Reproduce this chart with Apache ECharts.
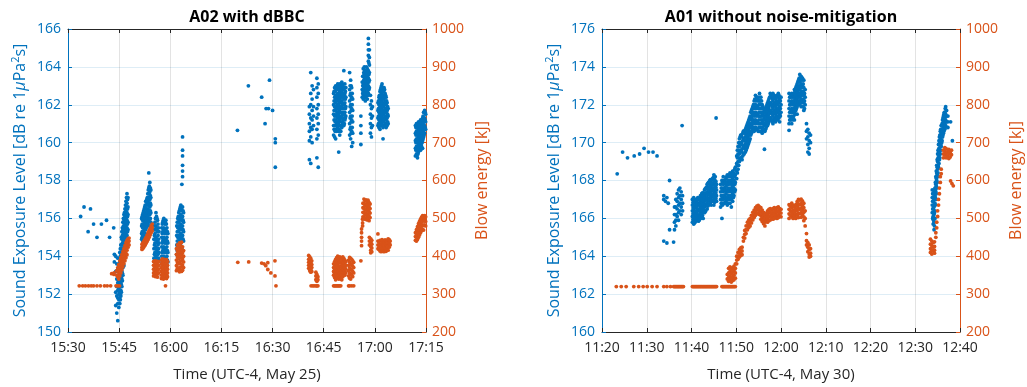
<!DOCTYPE html>
<html>
<head>
<meta charset="utf-8">
<script src="https://cdn.jsdelivr.net/npm/echarts@6/dist/echarts.min.js"></script>
<style>
  html, body { margin: 0; padding: 0; background: #ffffff; }
  #chart { width: 1027px; height: 387px; }
</style>
</head>
<body>
<div id="chart"></div>
<script>
// Time values are minutes after midnight (local, UTC-4).
// Each entry is [time, [values observed at that time]].

// ---- A02 with dBBC (May 25) ----
const selA02 = [
  [933.7,[156.1]],[934.7,[156.6]],[935.9,[155.3]],[936.6,[156.5]],[937.5,[155.7]],[938.5,[155.0]],
  [939.8,[155.7]],[941.3,[155.9]],[942.2,[155.0]],[943.4,[155.5]],
  [943.6,[154.1,153.7]],
  [944.0,[154.0,153.2,152.1,151.4]],
  [944.3,[153.6,152.8,152.4,151.9,151.0]],
  [944.6,[153.9,153.3,152.6,152.2,151.8,151.5,150.6]],
  [944.9,[153.5,153.0,152.7,152.3,152.0,151.7,151.3]],
  [945.2,[154.2,153.7,153.2,152.9,152.5,152.1,151.8,151.5]],
  [945.35,[154.4,154.0,153.6,153.2,152.8,152.4,152.0,151.7]],
  [945.5,[154.6,154.2,153.8,153.4,153.0,152.6,152.2,151.9]],
  [945.65,[155.0,154.6,154.1,153.7,153.3,152.9,152.5,152.1]],
  [945.8,[155.3,154.9,154.4,154.0,153.6,153.2,152.8,152.4]],
  [945.95,[155.5,155.1,154.7,154.3,153.9,153.5,153.1,152.7]],
  [946.1,[155.8,155.4,155.0,154.6,154.2,153.8,153.4,153.0]],
  [946.25,[156.0,155.6,155.2,154.8,154.4,154.0,153.6]],
  [946.4,[156.2,155.8,155.4,155.0,154.6,154.2,153.9,153.5]],
  [946.55,[156.3,155.9,155.5,155.1,154.7,154.3,153.9]],
  [946.7,[156.5,156.1,155.7,155.3,154.9,154.5,154.1]],
  [946.85,[156.7,156.3,155.9,155.5,155.1,154.7]],
  [947.0,[156.9,156.4,156.0,155.6,155.2,154.8,154.4]],
  [947.15,[157.1,156.6,156.2,155.8,155.4,155.0]],
  [947.3,[157.3,156.8,156.3,155.9,155.5,155.1]],
  [947.45,[157.0,156.5,156.1,155.7,155.3]],
  [947.6,[157.1,156.6,156.2,155.8,155.4]],
  [951.6,[156.0,155.6,155.2,154.9]],
  [951.75,[156.1,155.7,155.3,155.0]],
  [951.9,[156.2,155.9,155.5,155.1,154.8]],
  [952.05,[156.3,155.9,155.6,155.2]],
  [952.2,[156.4,156.0,155.7,155.3,155.0]],
  [952.35,[156.5,156.1,155.7,155.4,155.0]],
  [952.5,[156.6,156.2,155.8,155.5,155.1]],
  [952.65,[156.7,156.3,156.0,155.6,155.2]],
  [952.8,[156.9,156.5,156.1,155.7,155.4]],
  [952.95,[156.9,156.5,156.2,155.8,155.5]],
  [953.1,[157.0,156.7,156.3,155.9,155.6]],
  [953.25,[157.1,156.8,156.4,156.0,155.6]],
  [953.4,[157.3,156.9,156.5,156.1,155.7]],
  [953.55,[157.5,157.1,156.7,156.3,155.8]],
  [953.7,[158.4,157.6,157.1,156.7,156.3,155.9]],
  [953.85,[157.7,157.3,156.8,156.4,156.0]],
  [954.0,[157.9,157.4,157.0,156.6,156.2,155.6]],
  [954.15,[157.6,157.2,156.8,156.4,156.0]],
  [954.3,[157.5,157.1,156.7,156.3,155.8]],
  [955.2,[155.4,154.9,154.4,153.9]],
  [955.35,[155.6,155.1,154.6,154.1]],
  [955.5,[155.8,155.2,154.7,154.2,153.8]],
  [955.65,[156.0,155.4,154.9,154.4,153.9]],
  [955.8,[156.3,155.6,155.0,154.5,154.0]],
  [955.95,[156.1,155.5,154.9,154.4]],
  [956.1,[156.0,155.4,154.8,154.3,153.9]],
  [956.25,[155.9,155.3,154.7,154.2]],
  [956.4,[155.7,155.1,154.6,154.1]],
  [956.55,[155.5,154.9,154.4,153.9]],
  [956.7,[155.3,154.7,154.2,153.8]],
  [957.5,[155.5,155.0,154.5,154.0,153.6]],
  [957.65,[155.7,155.2,154.7,154.2,153.7]],
  [957.8,[155.8,155.3,154.8,154.3,153.8,153.4]],
  [957.95,[155.9,155.4,154.9,154.4,153.9]],
  [958.1,[156.0,155.5,155.0,154.5,154.0,153.5]],
  [958.25,[155.8,155.3,154.8,154.3,153.8]],
  [958.4,[155.7,155.2,154.7,154.2,153.7]],
  [958.55,[155.8,155.3,154.8,154.3]],
  [958.7,[155.9,155.4,154.9,154.4,153.9,153.4]],
  [958.85,[155.7,155.2,154.7,154.2,153.7]],
  [959.0,[155.5,155.0,154.5,154.0,153.5]],
  [959.15,[155.3,154.8,154.3,153.8]],
  [959.3,[155.2,154.7,154.2,153.7]],
  [961.9,[155.6,155.1,154.6,154.1]],
  [962.05,[155.8,155.3,154.8,154.3]],
  [962.2,[156.0,155.5,155.0,154.5,154.0]],
  [962.35,[156.1,155.6,155.1,154.6,154.1]],
  [962.5,[156.3,155.8,155.3,154.8,154.3,153.9]],
  [962.65,[156.4,155.9,155.4,154.9,154.4]],
  [962.8,[156.5,156.0,155.5,155.0,154.5,154.1]],
  [962.95,[156.6,156.1,155.6,155.1,154.6]],
  [963.1,[156.7,156.2,155.7,155.2,154.7,154.2]],
  [963.25,[156.5,156.0,155.5,155.0,154.5]],
  [963.4,[157.8,156.4,155.9,155.4,154.9,154.4]],
  [963.6,[160.3,159.6,159.3,158.8,158.5,158.2,156.6,156.1,155.6,155.1]],
  [963.75,[156.4,155.9,155.4,154.9]],
  [963.9,[156.3,155.8,155.3,154.8]],
  [979.7,[160.65]],[982.9,[163.0]],[986.8,[162.4]],[987.8,[161.0]],[988.1,[161.8]],[988.8,[161.8]],
  [989.1,[163.3]],[990.0,[161.7]],[990.8,[160.2,160.0,158.7]],
  [1000.8,[161.9,161.5,161.0,160.6,160.1,159.1]],
  [1001.2,[163.7,162.6,162.0,161.3,160.8,160.3,158.9]],
  [1001.6,[163.0,162.3,161.7,161.2,160.7,160.0]],
  [1002.0,[162.8,161.9,161.4,160.9]],
  [1003.0,[163.4,162.9,162.4,161.8,161.3,160.7,160.2,159.2]],
  [1003.4,[163.1,162.6,162.0,161.5,161.0,160.4,158.7]],
  [1007.9,[162.6,162.0,161.5,160.9,160.4]],
  [1008.05,[162.7,162.2,161.7,161.2,160.7]],
  [1008.2,[162.9,162.4,161.9,161.4,160.9,160.3]],
  [1008.35,[162.7,162.2,161.7,161.1,160.6]],
  [1008.5,[163.0,162.5,162.1,161.7,161.2,160.7,160.2]],
  [1008.65,[162.8,162.3,161.8,161.4,160.9]],
  [1008.8,[162.8,162.3,161.9,161.5,161.0,160.6]],
  [1008.95,[162.9,162.4,162.0,161.6,161.1]],
  [1009.1,[163.1,162.6,162.2,161.8,161.3,160.8]],
  [1009.25,[163.0,162.5,162.0,161.5,161.0]],
  [1009.4,[162.9,162.4,162.0,161.6,161.1,160.6,159.5]],
  [1009.55,[162.8,162.5,162.1,161.7,161.2,160.7]],
  [1009.7,[163.1,162.7,162.3,161.9,161.4,160.9,160.4]],
  [1009.85,[163.0,162.6,162.2,161.8,161.3]],
  [1010.0,[162.9,162.5,162.1,161.6,161.1,160.6]],
  [1010.15,[162.8,162.4,161.9,161.4,160.9]],
  [1010.3,[163.2,162.7,162.2,161.8,161.3,160.8]],
  [1010.45,[163.1,162.6,162.1,161.6,161.1]],
  [1010.6,[163.0,162.5,162.0,161.5,161.0]],
  [1010.75,[162.9,162.4,162.0,161.6,161.2]],
  [1010.9,[163.8,162.8,162.3,161.8,161.3,160.9]],
  [1011.05,[162.9,162.5,162.0,161.5,161.0]],
  [1011.2,[163.1,162.6,162.1,161.6,161.2]],
  [1011.35,[162.7,162.3,161.8,161.3]],
  [1011.5,[162.9,162.4,161.9,161.4]],
  [1012.6,[163.7,162.8,162.2,161.6,161.0,160.4]],
  [1012.75,[163.0,162.5,161.9,161.3,160.7]],
  [1012.9,[163.3,162.6,162.0,161.4,160.8,160.2]],
  [1013.05,[163.0,162.3,161.7,161.1,160.5]],
  [1013.2,[162.9,162.4,161.8,161.2,160.6,159.8]],
  [1013.35,[162.6,162.0,161.4,160.8]],
  [1013.5,[162.3,161.7,161.1,160.5,160.0]],
  [1015.9,[161.4,160.9,160.5,159.9]],
  [1016.3,[163.2,162.8,162.4]],
  [1016.45,[163.5,163.0,162.6]],
  [1016.6,[163.9,163.5,163.1,162.7,162.3]],
  [1016.75,[163.7,163.3,162.9,162.5]],
  [1016.9,[164.0,163.6,163.2,162.8,162.4]],
  [1017.05,[163.8,163.4,163.0,162.6]],
  [1017.2,[163.8,163.4,163.0,162.6,162.2]],
  [1017.35,[163.6,163.2,162.8,162.4]],
  [1017.5,[164.0,163.7,163.3,162.9,162.5]],
  [1017.65,[163.8,163.5,163.1,162.7]],
  [1017.8,[163.9,163.5,163.1,162.7,162.3]],
  [1017.95,[163.7,163.3,162.9,162.5]],
  [1018.1,[165.5,165.2,164.9,164.6,164.3,163.8,163.4,163.0,162.6]],
  [1018.25,[164.2,163.6,163.2,162.8]],
  [1018.4,[164.9,164.5,164.1,163.7,163.3,162.9]],
  [1018.7,[162.5,162.0,161.5,161.0,160.5]],
  [1019.0,[162.2,161.8,161.3,160.8,160.3]],
  [1019.3,[161.9,161.4,160.9]],
  [1020.9,[162.1,161.7,161.3,160.9]],
  [1021.05,[162.2,161.8,161.4,161.0]],
  [1021.2,[162.4,162.0,161.6,161.2,160.8]],
  [1021.35,[162.5,162.1,161.7,161.3,160.9]],
  [1021.5,[162.7,162.3,161.9,161.5,161.1,160.7]],
  [1021.65,[162.8,162.4,162.0,161.6,161.2]],
  [1021.8,[162.9,162.5,162.1,161.7,161.3,160.9]],
  [1021.95,[163.0,162.6,162.2,161.8,161.4,161.0]],
  [1022.1,[163.1,162.7,162.3,161.9,161.5,161.1]],
  [1022.25,[162.9,162.5,162.1,161.7,161.3,160.9]],
  [1022.4,[162.8,162.4,162.0,161.6,161.2,160.8,160.2]],
  [1022.55,[162.7,162.3,161.9,161.5,161.1]],
  [1022.7,[162.9,162.5,162.1,161.7,161.3,160.9]],
  [1022.85,[162.8,162.4,162.0,161.6,161.2]],
  [1023.0,[162.6,162.2,161.8,161.4,161.0]],
  [1023.15,[162.5,162.1,161.7,161.3,160.9]],
  [1023.3,[162.4,162.0,161.6,161.2,160.8]],
  [1023.45,[162.2,161.8,161.4,161.0]],
  [1023.6,[162.1,161.7,161.3,160.9]],
  [1023.75,[161.9,161.5,161.1]],
  [1023.9,[161.8,161.4,161.0]],
  [1031.9,[160.9,160.5,160.1,159.7,159.3]],
  [1032.05,[160.8,160.4,160.0,159.6]],
  [1032.2,[161.0,160.6,160.2,159.8,159.4]],
  [1032.35,[160.9,160.5,160.1,159.7,159.3]],
  [1032.5,[160.8,160.4,160.0,159.6,159.2]],
  [1032.65,[161.0,160.6,160.2,159.8,159.4]],
  [1032.8,[161.1,160.7,160.3,159.9,159.5]],
  [1032.95,[161.0,160.6,160.2,159.8]],
  [1033.1,[160.9,160.5,160.1,159.7]],
  [1033.25,[161.1,160.7,160.3,159.9]],
  [1033.4,[161.2,160.8,160.4,160.0,159.6]],
  [1033.55,[161.1,160.7,160.3,159.9]],
  [1033.7,[161.0,160.6,160.2,159.8]],
  [1033.85,[161.2,160.8,160.4,160.0]],
  [1034.0,[161.3,160.9,160.5,160.1,159.7]],
  [1034.15,[161.4,161.0,160.6,160.2]],
  [1034.3,[161.6,161.1,160.7,160.3]],
  [1034.45,[161.6,161.2,160.8,160.4]],
  [1034.6,[161.7,161.3,160.9,160.5]],
  [1034.75,[161.6,161.2,160.8]],
  [1034.9,[161.5,161.1,160.7]]
];

const energyA02 = [
  [933.3,[322]],[934.3,[322]],[935.1,[322]],[936.0,[322]],[936.8,[322]],[937.5,[322]],
  [938.5,[322]],[939.5,[322]],[940.7,[322]],[941.5,[322]],[942.5,[322]],[944.1,[322]],
  [944.6,[322]],[945.1,[322]],
  [942.8,[354]],[943.5,[356,352]],
  [944.3,[362,350]],
  [944.6,[370,360,345]],
  [944.9,[378,366,352,340]],
  [945.2,[388,374,360,348]],
  [945.5,[396,382,368,356]],
  [945.8,[404,390,376,364]],
  [946.1,[412,398,384,372]],
  [946.4,[420,406,392,380]],
  [946.7,[428,414,400,388]],
  [947.0,[436,422,408,396]],
  [947.3,[442,430,416,404]],
  [947.6,[446,436,424]],
  [947.9,[448,440,430]],
  [951.7,[432,424,418]],
  [952.0,[436,428,421]],
  [952.3,[440,432,425]],
  [952.6,[445,437,429]],
  [952.9,[450,442,434]],
  [953.2,[456,447,439]],
  [953.5,[462,453,444]],
  [953.8,[468,459,450]],
  [954.1,[474,465,456]],
  [954.4,[480,471,462]],
  [954.7,[485,476,467]],
  [955.1,[386,376,366,356,348]],
  [955.4,[388,378,368,358,349]],
  [955.7,[385,375,365,355,346]],
  [956.0,[387,377,367,357,347]],
  [956.3,[384,374,364,354,345]],
  [956.6,[386,376,366,356]],
  [957.4,[390,380,370,360,350,341]],
  [957.7,[393,383,373,363,353,343]],
  [958.0,[389,379,369,359,349,340]],
  [958.3,[392,382,372,362,352,342]],
  [958.6,[388,378,368,358,348,322]],
  [958.9,[391,381,371,361,351,341]],
  [959.2,[386,376,366,356,346]],
  [961.8,[420,405,390,375,362]],
  [962.1,[430,414,398,383,368]],
  [962.4,[425,410,395,380,365]],
  [962.7,[435,418,402,386,370,359]],
  [963.0,[428,412,396,380,364]],
  [963.3,[437,420,404,388,372,360]],
  [963.6,[425,409,393,377,363]],
  [963.9,[415,400,385,370]],
  [979.8,[384]],[983.0,[385]],[986.8,[382]],[987.5,[380]],[988.0,[375]],[988.6,[383,365]],
  [989.5,[356]],[990.7,[388,348]],[991.0,[322]],
  [1000.6,[402,392,384,376,368]],
  [1000.9,[398,388,380,372,362]],
  [1001.2,[394,384,376,366,358]],
  [1001.5,[388,378,370,360]],
  [1001.3,[322]],[1001.8,[322]],[1002.2,[322]],
  [1002.7,[358,348,338,322]],
  [1003.0,[352,342,334,322]],
  [1003.3,[346,338,322]],
  [1007.9,[380,370,360,350,322]],
  [1008.2,[386,374,364,354,344,322]],
  [1008.5,[392,380,368,358,348,338,322]],
  [1008.8,[396,384,372,362,352,342,322]],
  [1009.1,[400,388,376,366,356,346,322]],
  [1009.4,[394,382,370,360,350,340,322]],
  [1009.7,[398,386,374,364,354,344,322]],
  [1010.0,[396,384,372,362,352,340,322]],
  [1010.3,[392,380,370,360,350,338]],
  [1010.6,[398,386,376,366,356,346]],
  [1010.9,[394,384,374,364,354]],
  [1011.2,[390,380,370,360,350]],
  [1011.5,[386,376,366,356]],
  [1012.3,[390,376,362,348,322]],
  [1012.6,[397,384,370,356,342,322]],
  [1012.9,[394,380,366,352,340]],
  [1013.2,[392,378,364,350,322]],
  [1013.5,[388,374,360,346]],
  [1013.8,[384,370,356,322]],
  [1015.9,[388]],
  [1016.1,[472,462,450,440,428]],
  [1016.4,[498,488,480]],
  [1016.5,[540,528,516,504]],
  [1016.8,[551,539,527,515,503]],
  [1017.1,[546,534,522,510,498]],
  [1017.4,[549,537,525,513,501]],
  [1017.7,[544,532,520,508,496]],
  [1018.0,[548,536,524,512,500]],
  [1018.3,[542,530,518,506,494]],
  [1018.6,[538,526,514,502]],
  [1018.4,[450,440,430]],
  [1018.8,[446,436,426,416,409]],
  [1019.1,[442,432,422,412]],
  [1020.9,[459,440,430,420]],
  [1021.2,[438,428,418]],
  [1021.5,[442,432,422,414]],
  [1021.8,[440,430,420,412]],
  [1022.1,[444,434,424,414]],
  [1022.4,[441,431,421,413]],
  [1022.7,[439,429,419,412]],
  [1023.0,[443,433,423,414]],
  [1023.3,[440,430,420,413]],
  [1023.6,[442,432,422]],
  [1023.9,[446,436,426,416]],
  [1024.2,[444,434,424]],
  [1024.5,[440,430]],
  [1031.9,[462,452,442]],
  [1032.2,[470,460,450,440]],
  [1032.5,[478,466,454,444]],
  [1032.8,[486,474,462,450]],
  [1033.1,[492,480,468,456]],
  [1033.4,[498,486,474,462]],
  [1033.7,[503,491,479,467]],
  [1034.0,[507,495,483,471]],
  [1034.3,[505,493,481,469]],
  [1034.6,[507,495,483]],
  [1034.9,[504,492,480]]
];

// ---- A01 without noise-mitigation (May 30) ----
const selA01 = [
  [683.4,[168.35]],[684.6,[169.5]],[685.7,[169.2]],[687.2,[169.3]],[688.4,[169.4]],[689.4,[169.7]],
  [690.4,[169.5]],[691.4,[169.5]],[692.3,[169.3]],
  [693.8,[167.2,167.0,164.8]],[694.2,[166.9]],[694.5,[167.1,164.7]],[694.8,[166.8]],
  [695.1,[168.0,165.4]],[696.0,[164.75]],[697.9,[170.9]],
  [696.2,[166.6,166.2,165.8,165.4]],
  [696.5,[167.0,166.6,166.2,165.9,165.6]],
  [696.8,[167.3,166.9,166.5,166.1]],
  [697.1,[167.5,167.1,166.7,166.3,165.9]],
  [697.4,[167.6,167.2,166.8,166.4]],
  [697.7,[167.4,167.0,166.6,166.2]],
  [698.0,[167.2,166.8,166.4]],
  [700.2,[167.0,166.7,166.4,166.1,165.8]],
  [700.35,[166.85,166.55,166.25,165.95]],
  [700.5,[167.1,166.8,166.5,166.2,165.9,165.7]],
  [700.65,[166.95,166.65,166.35,166.05,165.75]],
  [700.8,[166.9,166.6,166.3,166.0,165.8]],
  [700.95,[166.85,166.55,166.25,165.95]],
  [701.1,[167.0,166.7,166.4,166.1,165.9]],
  [701.25,[166.95,166.65,166.35,166.05]],
  [701.4,[167.1,166.8,166.5,166.2,166.0]],
  [701.55,[167.05,166.75,166.45,166.15,165.85]],
  [701.7,[167.0,166.7,166.4,166.1,165.9]],
  [701.85,[167.05,166.75,166.45,166.15]],
  [702.0,[167.2,166.9,166.6,166.3,166.0]],
  [702.15,[167.15,166.85,166.55,166.25]],
  [702.3,[167.3,167.0,166.7,166.4,166.1]],
  [702.45,[167.35,167.05,166.75,166.45,166.15]],
  [702.6,[167.2,166.9,166.6,166.3,166.0]],
  [702.75,[167.35,167.05,166.75,166.45]],
  [702.9,[167.5,167.2,166.9,166.6,166.3]],
  [703.05,[167.55,167.25,166.95,166.65,166.35]],
  [703.2,[167.6,167.3,167.0,166.7,166.4]],
  [703.35,[167.65,167.35,167.05,166.75]],
  [703.5,[167.8,167.4,167.1,166.8,166.5]],
  [703.65,[167.85,167.55,167.25,166.95,166.65]],
  [703.8,[167.9,167.6,167.3,167.0,166.7]],
  [703.95,[167.85,167.55,167.25,166.95]],
  [704.1,[168.0,167.7,167.4,167.1,166.8]],
  [704.25,[168.05,167.75,167.45,167.15,166.85]],
  [704.4,[167.9,167.6,167.3,167.0,166.7]],
  [704.55,[168.05,167.75,167.45,167.15]],
  [704.7,[168.1,167.8,167.5,167.2,166.9]],
  [704.85,[168.15,167.85,167.55,167.25,166.95]],
  [705.0,[168.3,167.9,167.6,167.3,167.0,166.7]],
  [705.15,[168.05,167.75,167.45,167.15,166.85]],
  [705.3,[168.2,167.9,167.6,167.3,167.0]],
  [705.45,[167.95,167.65,167.35,167.05]],
  [705.5,[171.3]],
  [705.6,[167.8,167.5,167.2,166.9]],
  [706.5,[167.8,167.4,167.0,166.6]],
  [706.65,[167.6,167.2,166.8]],
  [706.8,[168.0,167.6,167.2,166.8,166.0]],
  [706.95,[167.9,167.5,167.1,166.7]],
  [707.1,[168.2,167.8,167.4,167.0]],
  [707.25,[168.0,167.6,167.2,166.8]],
  [707.4,[168.0,167.6,167.2,166.8]],
  [707.55,[167.9,167.5,167.1]],
  [707.7,[168.1,167.7,167.3,166.9]],
  [707.85,[168.2,167.8,167.4,167.0]],
  [708.0,[168.3,167.9,167.5,167.1,166.7]],
  [708.15,[168.0,167.6,167.2,166.8]],
  [708.3,[168.2,167.8,167.4,167.0]],
  [708.45,[168.3,167.9,167.5,167.1]],
  [708.6,[168.4,168.0,167.6,167.2,166.8]],
  [708.75,[168.3,167.9,167.5,167.1]],
  [708.9,[168.2,167.8,167.4,167.0,166.6]],
  [709.05,[168.4,168.0,167.6,167.2]],
  [709.2,[168.5,168.1,167.7,167.3,166.9]],
  [709.35,[168.3,167.9,167.5,167.1]],
  [709.5,[168.4,168.0,167.6,167.2]],
  [709.65,[168.6,168.2,167.8,167.4]],
  [709.8,[168.7,168.3,167.9,167.5]],
  [710.1,[169.3,168.9,168.5,168.1]],
  [710.25,[169.6,169.2,168.8,168.4]],
  [710.4,[169.8,169.4,169.0,168.6]],
  [710.55,[170.0,169.6,169.2,168.8]],
  [710.7,[170.2,169.8,169.4,169.0]],
  [710.85,[170.3,169.9,169.5,169.1]],
  [711.0,[170.4,170.0,169.6,169.2]],
  [711.15,[170.4,170.0,169.6,169.2]],
  [711.3,[170.3,169.9,169.5,169.1]],
  [711.45,[170.5,170.1,169.7,169.3]],
  [711.6,[170.6,170.2,169.8,169.4]],
  [711.75,[170.6,170.2,169.8,169.4]],
  [711.9,[170.5,170.1,169.7]],
  [712.05,[170.7,170.3,169.9,169.5]],
  [712.2,[170.8,170.4,170.0,169.6]],
  [712.35,[170.9,170.5,170.1,169.7]],
  [712.5,[171.0,170.6,170.2,169.8]],
  [712.65,[171.1,170.7,170.3,169.9]],
  [712.8,[171.2,170.8,170.4,170.0]],
  [712.95,[171.3,170.9,170.5,170.1]],
  [713.1,[171.4,171.0,170.6,170.2]],
  [713.25,[171.6,171.2,170.8,170.4]],
  [713.4,[171.7,171.3,170.9,170.5]],
  [713.55,[171.8,171.4,171.0,170.6]],
  [713.7,[171.9,171.5,171.1,170.7]],
  [713.85,[172.0,171.6,171.2,170.8]],
  [714.0,[172.2,171.8,171.4,171.0,170.6]],
  [714.15,[172.3,171.9,171.5,171.1,170.7]],
  [714.3,[172.5,172.0,171.6,171.2,170.8]],
  [714.45,[172.2,171.8,171.4,171.0]],
  [714.6,[172.4,171.9,171.5,171.1,170.7]],
  [714.75,[172.3,171.9,171.5,171.1]],
  [714.9,[172.2,171.8,171.4,171.0,170.6]],
  [715.05,[172.4,172.0,171.6,171.2,170.8]],
  [715.2,[172.6,172.2,171.8,171.4,171.0,170.6]],
  [715.35,[172.2,171.8,171.4,171.0]],
  [715.5,[172.4,172.0,171.6,171.2,170.8]],
  [715.65,[172.2,171.8,171.4,171.0,170.6]],
  [715.8,[172.0,171.6,171.2,170.8,170.5]],
  [715.95,[171.9,171.5,171.1,170.7]],
  [716.1,[171.8,171.4,171.0,170.7]],
  [716.25,[171.7,171.3,170.9]],
  [716.3,[169.65]],
  [716.4,[171.6,171.2,170.9,170.6]],
  [716.55,[171.8,171.4,171.0,170.7]],
  [716.7,[171.9,171.5,171.1,170.8]],
  [716.85,[172.0,171.6,171.2,170.9]],
  [717.0,[172.1,171.7,171.3,170.9]],
  [717.15,[172.2,171.8,171.4,171.0]],
  [717.3,[172.3,171.9,171.5,171.1]],
  [717.45,[172.4,172.0,171.6,171.2]],
  [717.6,[172.6,172.1,171.7,171.3]],
  [717.75,[172.5,172.1,171.7,171.3]],
  [717.9,[172.4,172.0,171.6,171.2]],
  [718.05,[172.3,171.9,171.5,171.1]],
  [718.2,[172.6,172.2,171.8,171.4,171.0]],
  [718.35,[172.4,172.0,171.6,171.2]],
  [718.5,[172.5,172.1,171.7,171.3]],
  [718.65,[172.4,172.0,171.6,171.2]],
  [718.8,[172.3,171.9,171.5,171.1]],
  [718.95,[172.2,171.8,171.4]],
  [719.1,[172.5,172.1,171.7,171.3]],
  [719.25,[172.4,172.0,171.6,171.2]],
  [719.4,[172.6,172.2,171.8,171.4]],
  [719.55,[172.5,172.1,171.7,171.3]],
  [719.7,[172.3,171.9,171.5,171.1]],
  [719.85,[172.2,171.8,171.4]],
  [720.0,[172.4,172.0,171.6]],
  [721.8,[172.6,172.2,171.8,171.4,171.0,170.65]],
  [721.95,[172.4,172.0,171.6,171.2]],
  [722.1,[172.4,172.0,171.6,171.2]],
  [722.25,[172.5,172.1,171.7,171.3]],
  [722.4,[172.6,172.2,171.8,171.4,171.0]],
  [722.55,[172.4,172.0,171.6,171.2]],
  [722.7,[172.5,172.1,171.7,171.3]],
  [722.85,[172.6,172.2,171.8,171.4]],
  [723.0,[172.8,172.4,172.0,171.6,171.2]],
  [723.15,[172.7,172.3,171.9,171.5]],
  [723.3,[172.9,172.5,172.1,171.7]],
  [723.45,[173.0,172.6,172.2,171.8]],
  [723.6,[173.1,172.7,172.3,171.9,171.5]],
  [723.75,[173.2,172.8,172.4,172.0]],
  [723.9,[173.3,172.9,172.5,172.1]],
  [724.05,[173.4,173.0,172.6,172.2]],
  [724.2,[173.6,173.2,172.8,172.4,172.0]],
  [724.35,[173.4,173.0,172.6,172.2]],
  [724.5,[173.5,173.1,172.7,172.3,171.9]],
  [724.65,[173.3,172.9,172.5,172.1]],
  [724.8,[173.4,173.0,172.6,172.2]],
  [724.95,[173.1,172.7,172.3,171.9]],
  [725.1,[173.3,172.9,172.5,172.1,171.7]],
  [725.25,[172.6,172.2,171.8]],
  [725.4,[172.8,172.4,172.0]],
  [725.7,[171.0,170.6,170.2]],
  [726.0,[170.7,170.3,169.9,169.5]],
  [726.3,[170.5,170.1,169.7,169.4]],
  [726.6,[170.4,170.0]],
  [753.8,[167.5,167.1,166.7,166.3]],
  [753.9,[167.3,166.9,166.5,166.0]],
  [754.0,[167.3,166.9,166.5,166.1,165.7]],
  [754.1,[167.1,166.7,166.3,165.9]],
  [754.2,[167.4,167.0,166.6,166.2,165.8,165.4]],
  [754.3,[167.5,167.1,166.7,166.3,165.6]],
  [754.4,[167.6,167.2,166.8,166.4,166.0]],
  [754.5,[167.9,167.5,167.1,166.7]],
  [754.6,[168.2,167.8,167.4,167.0]],
  [754.7,[168.5,168.1,167.7,167.3]],
  [754.8,[168.8,168.4,168.0,167.6]],
  [754.9,[169.1,168.7,168.3,167.9]],
  [755.0,[169.4,169.0,168.6,168.2]],
  [755.1,[169.6,169.2,168.8,168.4]],
  [755.2,[169.9,169.5,169.1,168.7]],
  [755.3,[170.1,169.7,169.3,168.9]],
  [755.4,[170.3,169.9,169.5,169.1]],
  [755.5,[170.4,170.0,169.6,169.2]],
  [755.6,[170.6,170.2,169.8,169.4]],
  [755.7,[170.7,170.3,169.9,169.6]],
  [755.8,[170.9,170.5,170.1,169.8]],
  [755.9,[170.9,170.6,170.3,170.0]],
  [756.0,[171.0,170.7,170.4,170.1]],
  [756.1,[171.2,170.9,170.6,170.3]],
  [756.2,[171.3,171.0,170.7,170.4]],
  [756.3,[171.4,171.1,170.8,170.5]],
  [756.4,[171.5,171.2,170.9,170.6]],
  [756.5,[171.6,171.2,170.9]],
  [756.6,[171.6,171.3,171.0,170.7]],
  [756.7,[171.8,171.4,171.1,170.8]],
  [756.8,[171.9,171.5,171.2,170.9]],
  [757.0,[171.7,171.4,171.1]],
  [757.3,[171.4,171.1,170.8]],
  [757.9,[171.1]],
  [758.3,[170.1]]
];

const energyA01 = [
  [683.2,[320]],[684.3,[320]],[685.4,[320]],[687.1,[320]],[688.2,[320]],[689.2,[320]],
  [690.1,[320]],[691.2,[320]],[692.3,[320]],[693.8,[320]],[694.5,[320]],[695.3,[320]],
  [696.0,[320]],[696.2,[320]],[696.4,[320]],[696.6,[320]],[696.8,[320]],[697.0,[320]],
  [697.2,[320]],[697.4,[320]],[697.6,[320]],[697.8,[320]],[698.0,[320]],[698.2,[320]],
  [700.2,[320]],[700.4,[320]],[700.6,[320]],[700.8,[320]],[701.0,[320]],[701.2,[320]],
  [701.4,[320]],[701.6,[320]],[701.8,[320]],[702.0,[320]],[702.2,[320]],[702.4,[320]],
  [702.6,[320]],[702.8,[320]],[703.0,[320]],[703.2,[320]],[703.4,[320]],[703.6,[320]],
  [703.8,[320]],[704.0,[320]],[704.2,[320]],[704.4,[320]],[704.6,[320]],[704.8,[320]],
  [705.0,[320]],[705.2,[320]],[705.4,[320]],[705.6,[320]],
  [706.8,[320]],[707.0,[320]],[707.2,[320]],[707.4,[320]],[707.6,[320]],[707.8,[320]],
  [708.0,[320]],[708.2,[320]],[708.4,[320]],[708.6,[320]],[708.8,[320]],[709.0,[320]],
  [709.2,[320]],[709.4,[320]],[709.6,[320]],[709.8,[320]],
  [708.0,[352,340]],
  [708.3,[368,356,344,334]],
  [708.6,[372,360,348,336]],
  [708.9,[366,354,342,332]],
  [709.2,[370,358,346,336]],
  [709.5,[374,362,350,338]],
  [709.8,[380,368,356,342]],
  [710.1,[400,390,380]],
  [710.4,[410,400,392]],
  [710.7,[418,408,398]],
  [711.0,[422,412,402]],
  [711.3,[424,414,404]],
  [711.6,[450,440]],
  [711.9,[468,458,448]],
  [712.2,[480,470,460]],
  [712.5,[490,480,470]],
  [712.8,[496,486,476]],
  [713.1,[500,490,480]],
  [713.4,[508,498,488]],
  [713.7,[516,506,496]],
  [714.0,[522,512,502]],
  [714.3,[528,518,508]],
  [714.6,[532,522,512]],
  [714.9,[534,524,514]],
  [715.2,[530,520,510]],
  [715.5,[528,518,508,498]],
  [715.8,[522,512,502,492]],
  [716.1,[516,506,496,486]],
  [716.4,[510,500,490,480]],
  [716.7,[514,504,494]],
  [717.0,[520,510,500,490]],
  [717.3,[524,514,504,494]],
  [717.6,[526,516,506,496]],
  [717.9,[522,512,502]],
  [718.2,[526,516,506,498]],
  [718.5,[528,518,508,500]],
  [718.8,[524,514,504]],
  [719.1,[528,518,508,500]],
  [719.4,[530,520,510,502]],
  [719.7,[526,516,506]],
  [720.0,[524,514,504]],
  [721.8,[536,524,512,500]],
  [722.1,[532,520,508]],
  [722.4,[540,528,516,504]],
  [722.7,[534,522,510,500]],
  [723.0,[530,518,506]],
  [723.3,[536,524,512,500]],
  [723.6,[544,532,520,508]],
  [723.9,[550,538,526,514,502]],
  [724.2,[548,536,524,512]],
  [724.5,[551,539,527,515,503]],
  [724.8,[546,534,522,510]],
  [725.1,[540,528,516,504,494]],
  [725.4,[520,500,480]],
  [725.7,[460,441,430]],
  [726.0,[436,424,412]],
  [726.3,[430,418,406,398]],
  [726.6,[420,408,400]],
  [753.4,[445,432,420,410]],
  [753.7,[440,428,416,406]],
  [754.0,[436,424,414]],
  [754.3,[438,426,416,408]],
  [754.6,[462,450]],
  [754.8,[490,475]],
  [755.0,[520,505]],
  [755.2,[550,535]],
  [755.4,[580,565]],
  [755.6,[610,595]],
  [755.8,[630,618]],
  [756.3,[660,670,680]],
  [756.6,[667,677,687]],
  [756.9,[660,672,684]],
  [757.2,[664,676]],
  [757.5,[658,670,682]],
  [757.8,[662,674]],
  [758.1,[668,680]],
  [757.9,[599]],
  [758.2,[592]],
  [758.5,[586]]
];

// Axis tick settings
const xTicksA02 = { min: 930, max: 1035, interval: 15 };   // 15:30 – 17:15
const xTicksA01 = { min: 680, max: 760, interval: 10 };    // 11:20 – 12:40
const selTicksA02 = { min: 150, max: 166, interval: 2 };
const selTicksA01 = { min: 160, max: 176, interval: 2 };
const energyTicks = { min: 200, max: 1000, interval: 100 };

const panelTitles = ['A02 with dBBC', 'A01 without noise-mitigation'];
const xNames = ['Time (UTC-4, May 25)', 'Time (UTC-4, May 30)'];

function expand(cols) {
  const out = [];
  cols.forEach(([t, vs]) => vs.forEach(v => out.push([t, v])));
  return out;
}

const BLUE = '#0072BD';
const ORANGE = '#D95319';
const DARK = '#262626';
const FONT = '"Open Sans", "Noto Sans", sans-serif';

function hhmm(v) {
  const h = Math.floor(v / 60), m = Math.round(v - h * 60);
  return h + ':' + String(m).padStart(2, '0');
}

const grids = [
  { left: 68, top: 29, width: 358, height: 304 },
  { left: 602, top: 29, width: 358, height: 304 }
];

const xAxes = [];
const yAxes = [];
[xTicksA02, xTicksA01].forEach((tk, i) => {
  xAxes.push({
    type: 'value', gridIndex: i, min: tk.min, max: tk.max, interval: tk.interval,
    name: xNames[i], nameLocation: 'middle', nameGap: 35,
    nameTextStyle: { color: DARK, fontSize: 15, fontFamily: FONT },
    axisLine: { show: true, onZero: false, lineStyle: { color: DARK, width: 1 } },
    axisTick: { show: true, inside: true, length: 4, lineStyle: { color: DARK } },
    axisLabel: { color: DARK, fontSize: 14, fontFamily: FONT, margin: 9, formatter: hhmm },
    splitLine: { show: true, lineStyle: { color: 'rgba(38,38,38,0.13)', width: 1 } }
  });
  xAxes.push({
    type: 'value', gridIndex: i, position: 'top', min: tk.min, max: tk.max, interval: tk.interval,
    axisLine: { show: true, onZero: false, lineStyle: { color: DARK, width: 1 } },
    axisTick: { show: true, inside: true, length: 4, lineStyle: { color: DARK } },
    axisLabel: { show: false }, splitLine: { show: false }
  });
});

const yNameRich = {
  i: { fontStyle: 'italic', fontSize: 16, color: BLUE, fontFamily: FONT },
  s: { fontSize: 11, color: BLUE, fontFamily: FONT, verticalAlign: 'bottom', padding: [0, 0, 9, 0] }
};

[selTicksA02, selTicksA01].forEach((tk, i) => {
  yAxes.push({
    type: 'value', gridIndex: i, position: 'left', min: tk.min, max: tk.max, interval: tk.interval,
    name: 'Sound Exposure Level [dB re 1{i|μ}Pa{s|2}s]', nameLocation: 'middle', nameGap: 38, nameRotate: 90,
    nameTextStyle: { color: BLUE, fontSize: 16, fontFamily: FONT, rich: yNameRich },
    axisLine: { show: true, onZero: false, lineStyle: { color: BLUE, width: 1 } },
    axisTick: { show: true, inside: true, length: 4, lineStyle: { color: BLUE } },
    axisLabel: { color: BLUE, fontSize: 14, fontFamily: FONT, margin: 7 },
    splitLine: { show: true, lineStyle: { color: 'rgba(0,114,189,0.13)', width: 1 } }
  });
  yAxes.push({
    type: 'value', gridIndex: i, position: 'right', min: energyTicks.min, max: energyTicks.max,
    interval: energyTicks.interval,
    name: 'Blow energy [kJ]', nameLocation: 'middle', nameGap: 48, nameRotate: 90,
    nameTextStyle: { color: ORANGE, fontSize: 16, fontFamily: FONT },
    axisLine: { show: true, onZero: false, lineStyle: { color: ORANGE, width: 1 } },
    axisTick: { show: true, inside: true, length: 4, lineStyle: { color: ORANGE } },
    axisLabel: { color: ORANGE, fontSize: 14, fontFamily: FONT, margin: 6, formatter: v => String(v) },
    splitLine: { show: false }
  });
});

function scatter(data, xi, yi, color) {
  return {
    type: 'scatter', xAxisIndex: xi, yAxisIndex: yi, data: expand(data),
    symbol: 'circle', symbolSize: 3.8, silent: true, animation: false,
    itemStyle: { color: color, opacity: 1 }
  };
}

const chart = echarts.init(document.getElementById('chart'), null, { renderer: 'canvas' });
chart.setOption({
  backgroundColor: '#ffffff',
  animation: false,
  grid: grids,
  xAxis: xAxes,
  yAxis: yAxes,
  graphic: panelTitles.map((t, i) => ({
    type: 'text',
    x: grids[i].left + grids[i].width / 2,
    y: 17,
    style: {
      text: t, fill: '#000000', font: 'bold 16px ' + FONT,
      textAlign: 'center', textVerticalAlign: 'middle'
    }
  })),
  series: [
    scatter(selA02, 0, 0, BLUE),
    scatter(energyA02, 0, 1, ORANGE),
    scatter(selA01, 2, 2, BLUE),
    scatter(energyA01, 2, 3, ORANGE)
  ]
});
</script>
</body>
</html>
